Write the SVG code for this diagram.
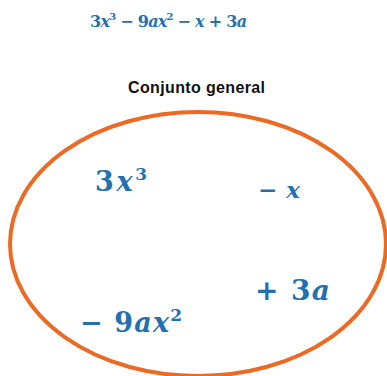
<svg xmlns="http://www.w3.org/2000/svg" width="387" height="376" viewBox="0 0 387 376">
<style>
.m{font-family:"DejaVu Serif","Liberation Serif",serif;font-weight:bold;fill:#2270b0}
.i{font-style:italic}
.t{font-family:"Liberation Sans","Open Sans",sans-serif;font-weight:bold;fill:#111}
</style>
<rect width="387" height="376" fill="#fff"/>
<g id="formula">
<text class="m" x="90" y="27" font-size="16" textLength="157">3<tspan class="i">x</tspan><tspan font-size="10" dy="-7">3</tspan><tspan dy="7"> − 9</tspan><tspan class="i">ax</tspan><tspan font-size="10" dy="-7">2</tspan><tspan dy="7"> − </tspan><tspan class="i">x</tspan> + 3<tspan class="i">a</tspan></text>
</g>
<g id="title">
<text class="t" x="128" y="93" font-size="16" textLength="137">Conjunto general</text>
</g>
<g id="set">
<ellipse cx="198" cy="244" rx="188" ry="132" fill="none" stroke="#ec6a24" stroke-width="4"/>
</g>
<g id="elements">
<g id="e1"><text class="m" x="95" y="191" font-size="27" textLength="52">3<tspan class="i">x</tspan><tspan font-size="17" dy="-11">3</tspan></text></g>
<g id="e2"><text class="m" x="258" y="198" font-size="23" textLength="42">− <tspan class="i">x</tspan></text></g>
<g id="e3"><text class="m" x="255" y="300" font-size="28" textLength="75">+ 3<tspan class="i">a</tspan></text></g>
<g id="e4"><text class="m" x="80" y="332" font-size="27" textLength="102">− 9<tspan class="i">ax</tspan><tspan font-size="17" dy="-11">2</tspan></text></g>
</g>
</svg>
